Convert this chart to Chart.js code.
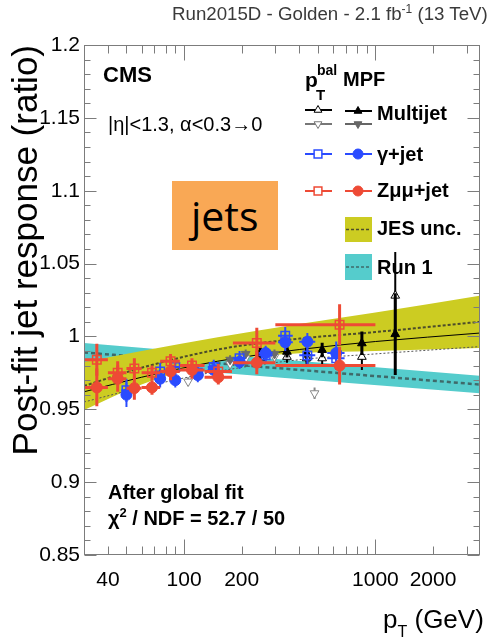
<!DOCTYPE html>
<html><head><meta charset="utf-8">
<script src="https://cdn.jsdelivr.net/npm/chart.js@4"></script>
<style>
html,body{margin:0;padding:0;background:#fff;}
#wrap{position:relative;width:487px;height:637px;overflow:hidden;font-family:"Liberation Sans",Arial,sans-serif;}
canvas{position:absolute;left:0;top:0;}
.t{position:absolute;white-space:nowrap;line-height:1;color:#000;}
.b{font-weight:bold;}
#jets{position:absolute;left:172px;top:181px;width:106px;height:69px;background:#f9a855;}
#jets span{position:absolute;left:19px;top:14px;font-family:"Open Sans",sans-serif;font-size:41px;line-height:1;color:#000;}
</style></head><body>
<div id="wrap">
<canvas id="c" width="487" height="637"></canvas>
<div class="t" style="left:172px;top:5px;font-size:18.7px;color:#3a3a3a">Run2015D - Golden - 2.1 fb<span style="font-size:12px;position:relative;top:-7px">-1</span> (13 TeV)</div>
<div class="t b" style="left:103px;top:64px;font-size:22px">CMS</div>
<div class="t" style="left:108px;top:114px;font-size:20px">|η|&lt;1.3, α&lt;0.3→0</div>
<div class="t b" style="left:305px;top:69px;font-size:21px">p</div>
<div class="t b" style="left:317px;top:63px;font-size:14px">bal</div>
<div class="t b" style="left:316px;top:87px;font-size:15px">T</div>
<div class="t b" style="left:343px;top:69px;font-size:20px">MPF</div>
<div class="t b" style="left:377px;top:103px;font-size:20px">Multijet</div>
<div class="t b" style="left:377px;top:144px;font-size:20px">γ+jet</div>
<div class="t b" style="left:377px;top:180px;font-size:20px">Zμμ+jet</div>
<div class="t b" style="left:377px;top:218px;font-size:20px">JES unc.</div>
<div class="t b" style="left:377px;top:257px;font-size:20px">Run 1</div>
<div class="t b" style="left:108px;top:482px;font-size:20px">After global fit</div>
<div class="t b" style="left:108px;top:508px;font-size:20px">χ<span style="font-size:13px;position:relative;top:-8px">2</span> / NDF = 52.7 / 50</div>
<div class="t" style="left:383px;top:606px;font-size:26px">p<span style="font-size:16px;position:relative;top:9px">T</span> (GeV)</div>
<div id="jets"><span>jets</span></div>
</div>
<script>
// ---------------- data ----------------
const xTickValues = [40, 100, 200, 1000, 2000];
const yTickValues = [0.85, 0.9, 0.95, 1, 1.05, 1.1, 1.15, 1.2];

// Z(mumu)+jet
const zmmPt     = [35, 45, 55, 68, 85, 110, 151, 240, 650];
const zmmPtLo   = [30, 40, 50, 60, 75, 95, 128, 180, 300];
const zmmPtHi   = [40, 50, 60, 75, 95, 128, 178, 300, 1000];
const zmmMpf    = [0.965, 0.971, 0.9645, 0.965, 0.976, 0.977, 0.972, 0.982, 0.980];
const zmmMpfErr = [0.013, 0.009, 0.008, 0.005, 0.006, 0.006, 0.005, 0.008, 0.013];
const zmmBal    = [0.984, 0.975, 0.978, 0.975, 0.983, 0.980, 0.976, 0.9955, 1.008];
const zmmBalErr = [0.011, 0.008, 0.007, 0.005, 0.005, 0.005, 0.005, 0.0105, 0.014];

// gamma+jet
const gjPt     = [50, 75, 90, 118, 143, 195, 267, 338, 441, 624];
const gjPtLo   = [47, 70, 85, 110, 133, 180, 245, 310, 400, 560];
const gjPtHi   = [53, 80, 95, 126, 153, 210, 290, 370, 485, 690];
const gjMpf    = [0.960, 0.971, 0.970, 0.9735, 0.977, 0.9826, 0.9886, 0.996, 0.9964, 0.9886];
const gjMpfErr = [0.0085, 0.006, 0.005, 0.005, 0.005, 0.005, 0.005, 0.006, 0.006, 0.008];
const gjBal    = [0.963, 0.976, 0.979, 0.975, 0.979, 0.985, 0.987, 1.0005, 0.987, 0.985];
const gjBalErr = [0.008, 0.006, 0.005, 0.005, 0.005, 0.005, 0.005, 0.006, 0.006, 0.008];

// multijet
const mjUpPt     = [250, 345, 437, 527, 850, 1270];
const mjMpfUp    = [0.9884, 0.9895, 0.9884, 0.9907, 0.9953, 1.0016];
const mjMpfUpErr = [0.004, 0.004, 0.004, 0.005, 0.008, 0.028];
const mjBalUp    = [0.985, 0.986, 0.985, 0.985, 0.986, 1.028];
const mjBalUpErr = [0.004, 0.004, 0.004, 0.005, 0.009, 0.030];
const mjDnPt     = [174, 210, 297, 441];
const mjMpfDn    = [0.984, 0.988, 0.988, 0.984];
const mjMpfDnErr = [0.003, 0.003, 0.003, 0.003];
const mjBalDnPt  = [105, 174, 210, 297, 481];
const mjBalDn    = [0.969, 0.981, 0.985, 0.986, 0.961];
const mjBalDnErr = [0.003, 0.003, 0.003, 0.003, 0.004];

// curves and bands
const curvePt  = [30, 60, 150, 400, 1000, 3500];
const jesLow   = [0.9495, 0.967, 0.9826, 0.9885, 0.990, 0.992];
const jesHigh  = [0.9825, 0.990, 0.9995, 1.0085, 1.0165, 1.028];
const jesMid   = [0.966, 0.9785, 0.991, 0.9985, 1.003, 1.010];
const fitLine  = [0.962, 0.972, 0.983, 0.991, 0.9965, 1.0023];
const altLine  = [0.955, 0.965, 0.976, 0.984, 0.988, 0.993];
const run1Pt   = [30, 3500];
const run1Mid  = [0.989, 0.967];
const run1Low  = [0.9825, 0.961];
const run1High = [0.9955, 0.973];

// ---------------- styling ----------------
const RED = '#ee4a35', BLUE = '#2a4bff', YEL = '#cccc22', CYAN = '#55cccc';
const xy = (xs, ys) => xs.map((x, i) => ({x: x, y: ys[i]}));

function markers(label, xs, ys, err, lo, hi, style) {
  return Object.assign({
    label: label, data: xy(xs, ys), showLine: false,
    errY: err, xLo: lo, xHi: hi
  }, style);
}
function curve(label, xs, ys, style) {
  return Object.assign({
    label: label, data: xy(xs, ys), pointRadius: 0, fill: false,
    cubicInterpolationMode: 'monotone'
  }, style);
}

const datasets = [
  markers('Zmm MPF', zmmPt, zmmMpf, zmmMpfErr, zmmPtLo, zmmPtHi,
    {pointStyle: 'circle', pointRadius: 5.5, backgroundColor: RED, borderColor: RED, borderWidth: 1, errWidth: 3}),
  markers('Zmm pTbal', zmmPt, zmmBal, zmmBalErr, zmmPtLo, zmmPtHi,
    {pointStyle: 'rect', pointRadius: 6, backgroundColor: 'rgba(0,0,0,0)', borderColor: RED, borderWidth: 1.5, errWidth: 3}),
  markers('gjet MPF', gjPt, gjMpf, gjMpfErr, gjPtLo, gjPtHi,
    {pointStyle: 'circle', pointRadius: 5.5, backgroundColor: BLUE, borderColor: BLUE, borderWidth: 1, errWidth: 2}),
  markers('gjet pTbal', gjPt, gjBal, gjBalErr, gjPtLo, gjPtHi,
    {pointStyle: 'rect', pointRadius: 6, backgroundColor: 'rgba(0,0,0,0)', borderColor: BLUE, borderWidth: 1.5, errWidth: 2}),
  markers('Multijet MPF', mjUpPt, mjMpfUp, mjMpfUpErr, null, null,
    {pointStyle: 'triangle', pointRadius: 5, backgroundColor: '#000', borderColor: '#000', borderWidth: 1, errWidth: 3}),
  markers('Multijet pTbal', mjUpPt, mjBalUp, mjBalUpErr, null, null,
    {pointStyle: 'triangle', pointRadius: 5, backgroundColor: '#fff', borderColor: '#000', borderWidth: 1, errWidth: 2}),
  markers('Multijet MPF (2)', mjDnPt, mjMpfDn, mjMpfDnErr, null, null,
    {pointStyle: 'triangle', pointRotation: 180, pointRadius: 5, backgroundColor: '#6a6a6a', borderColor: '#6a6a6a', borderWidth: 1, errWidth: 2}),
  markers('Multijet pTbal (2)', mjBalDnPt, mjBalDn, mjBalDnErr, null, null,
    {pointStyle: 'triangle', pointRotation: 180, pointRadius: 5, backgroundColor: '#fff', borderColor: '#888', borderWidth: 1, errWidth: 2}),
  curve('JES central', curvePt, jesMid, {borderColor: '#4d4d2a', borderWidth: 2, borderDash: [3, 2]}),
  curve('Global fit', curvePt, fitLine, {borderColor: '#000', borderWidth: 1}),
  curve('Alt', curvePt, altLine, {borderColor: '#555', borderWidth: 1, borderDash: [2, 2]}),
  curve('JES unc. high', curvePt, jesHigh, {borderWidth: 0, borderColor: YEL, backgroundColor: YEL, fill: '+1'}),
  curve('JES unc. low', curvePt, jesLow, {borderWidth: 0, borderColor: YEL}),
  curve('Run 1 central', run1Pt, run1Mid, {borderColor: '#3f6a6a', borderWidth: 2.5, borderDash: [4, 3]}),
  curve('Run 1 high', run1Pt, run1High, {borderWidth: 0, borderColor: CYAN, backgroundColor: CYAN, fill: '+1'}),
  curve('Run 1 low', run1Pt, run1Low, {borderWidth: 0, borderColor: CYAN})
];

// ---------------- plugins ----------------
const errorBarPlugin = {
  id: 'errorBars',
  beforeDatasetDraw(chart, args) {
    const ds = chart.data.datasets[args.index];
    if (!ds.errY) return;
    const {ctx, chartArea: a, scales: {x, y}} = chart;
    ctx.save();
    ctx.beginPath();
    ctx.rect(a.left, a.top, a.right - a.left, a.bottom - a.top);
    ctx.clip();
    ctx.strokeStyle = ds.borderColor;
    ctx.lineWidth = ds.errWidth || 2;
    args.meta.data.forEach((pt, i) => {
      const d = ds.data[i], e = ds.errY[i];
      ctx.beginPath();
      ctx.moveTo(pt.x, y.getPixelForValue(d.y + e));
      ctx.lineTo(pt.x, y.getPixelForValue(d.y - e));
      if (ds.xLo) {
        ctx.moveTo(x.getPixelForValue(ds.xLo[i]), pt.y);
        ctx.lineTo(x.getPixelForValue(ds.xHi[i]), pt.y);
      }
      ctx.stroke();
    });
    ctx.restore();
  }
};

const framePlugin = {
  id: 'frame',
  afterDatasetsDraw(chart) {
    const {ctx, chartArea: a, scales: {x, y}} = chart;
    ctx.save();
    ctx.strokeStyle = '#7c7c7c';
    ctx.lineWidth = 1;
    const L = Math.round(a.left) + 0.5, R = Math.round(a.right) - 0.5;
    const T = Math.round(a.top) + 0.5, B = Math.round(a.bottom) - 0.5;
    ctx.strokeRect(L, T, R - L, B - T);
    ctx.beginPath();
    for (let k = 85; k <= 120; k++) {
      const py = Math.round(y.getPixelForValue(k / 100)) + 0.5;
      const len = (k % 5 === 0) ? 12 : 6;
      ctx.moveTo(L, py); ctx.lineTo(L + len, py);
      ctx.moveTo(R, py); ctx.lineTo(R - len, py);
    }
    for (let dec = 10; dec <= 1000; dec *= 10) {
      for (let m = 1; m <= 9; m++) {
        const v = dec * m;
        if (v <= 30 || v > 3500) continue;
        const px = Math.round(x.getPixelForValue(v)) + 0.5;
        const len = (m === 1) ? 15 : 8;
        ctx.moveTo(px, B); ctx.lineTo(px, B - len);
        ctx.moveTo(px, T); ctx.lineTo(px, T + len);
      }
    }
    ctx.stroke();
    ctx.restore();
  }
};

const legendPlugin = {
  id: 'legendMarks',
  afterDraw(chart) {
    const ctx = chart.ctx;
    const dp = Chart.helpers.drawPoint;
    const seg = (x1, x2, y, c, w) => { ctx.beginPath(); ctx.strokeStyle = c; ctx.lineWidth = w; ctx.moveTo(x1, y); ctx.lineTo(x2, y); ctx.stroke(); };
    const mark = (x, y, style, rot, r, fill, stroke, bw) => {
      ctx.fillStyle = fill; ctx.strokeStyle = stroke; ctx.lineWidth = bw;
      dp(ctx, {pointStyle: style, rotation: rot, radius: r, borderWidth: bw}, x, y);
    };
    ctx.save();
    seg(305, 332, 110, '#000', 2); mark(318, 110, 'triangle', 0, 4.5, '#fff', '#000', 1);
    seg(305, 332, 124, '#777', 2); mark(318, 124, 'triangle', 180, 4.5, '#fff', '#777', 1);
    seg(345, 372, 111, '#000', 2); mark(358, 111, 'triangle', 0, 4.5, '#000', '#000', 1);
    seg(345, 372, 124, '#666', 2); mark(358, 124, 'triangle', 180, 4.5, '#666', '#666', 1);
    seg(305, 332, 154, BLUE, 2); mark(318, 154, 'rect', 0, 5.5, '#fff', BLUE, 1.5);
    seg(345, 372, 154, BLUE, 2); mark(358, 154, 'circle', 0, 5, BLUE, BLUE, 1);
    seg(305, 332, 191, RED, 2); mark(318, 191, 'rect', 0, 5.5, '#fff', RED, 1.5);
    seg(345, 372, 191, RED, 2); mark(358, 191, 'circle', 0, 5, RED, RED, 1);
    ctx.fillStyle = YEL; ctx.fillRect(345, 217, 27, 25);
    ctx.setLineDash([3, 2]); seg(346, 371, 229.5, '#4d4d2a', 1.5);
    ctx.setLineDash([]);
    ctx.fillStyle = CYAN; ctx.fillRect(345, 254, 27, 26);
    ctx.setLineDash([3, 2]); seg(346, 371, 267, '#3f6a6a', 1.5);
    ctx.restore();
  }
};

new Chart(document.getElementById('c'), {
  type: 'line',
  data: {datasets: datasets},
  options: {
    responsive: false, animation: false, events: [],
    layout: {padding: {top: 45, right: 2, bottom: 0, left: 0}},
    plugins: {legend: {display: false}, tooltip: {enabled: false}, title: {display: false}},
    scales: {
      x: {
        type: 'logarithmic', min: 30, max: 3500,
        grid: {display: false, drawTicks: false}, border: {display: false},
        afterBuildTicks: (s) => { s.ticks = xTickValues.map(v => ({value: v})); },
        afterFit: (s) => { s.height = 82; },
        ticks: {padding: 13, color: '#000', maxRotation: 0, autoSkip: false,
          font: {family: 'Liberation Sans', size: 21}, callback: (v) => String(v)}
      },
      y: {
        type: 'linear', min: 0.85, max: 1.2,
        grid: {display: false, drawTicks: false}, border: {display: false},
        afterBuildTicks: (s) => { s.ticks = yTickValues.map(v => ({value: v})); },
        afterFit: (s) => { s.width = 84; },
        ticks: {padding: 4, color: '#000', autoSkip: false,
          font: {family: 'Liberation Sans', size: 21}, callback: (v) => String(v)},
        title: {display: true, text: 'Post-fit jet response (ratio)', align: 'end', color: '#000',
          padding: {top: 6, bottom: 0}, font: {family: 'Liberation Sans', size: 35}}
      }
    }
  },
  plugins: [errorBarPlugin, framePlugin, legendPlugin]
});
</script>
</body></html>
